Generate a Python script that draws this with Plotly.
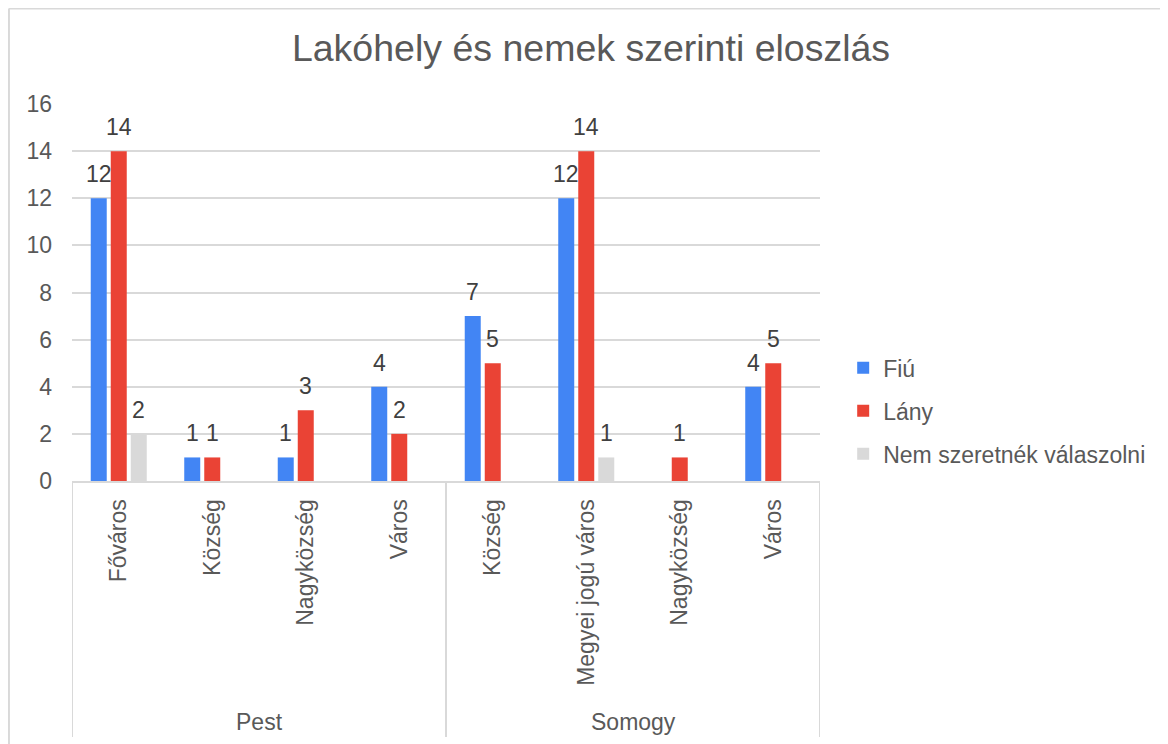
import plotly.graph_objects as go

groups = ["Pest", "Pest", "Pest", "Pest", "Somogy", "Somogy", "Somogy", "Somogy"]
places = ["Főváros", "Község", "Nagyközség", "Város", "Község", "Megyei jogú város", "Nagyközség", "Város"]
fiu = [12, 1, 1, 4, 7, 12, None, 4]
lany = [14, 1, 3, 2, 5, 14, 1, 5]
nem = [2, None, None, None, None, 1, None, None]
y_ticks = [0, 2, 4, 6, 8, 10, 12, 14, 16]

series = [
    ("Fiú", fiu, "#4285F4"),
    ("Lány", lany, "#EA4335"),
    ("Nem szeretnék válaszolni", nem, "#D9D9D9"),
]

FONT = "Arial, Liberation Sans, sans-serif"
TXT = "#595959"
GRID = "#D9D9D9"
FS = 23
BARGAP = 0.358
BARGROUPGAP = 0.2

xpos = list(range(len(places)))
n_series = len(series)
slot = (1 - BARGAP) / n_series

fig = go.Figure()
for i, (name, vals, col) in enumerate(series):
    fig.add_trace(go.Bar(
        name=name, x=xpos, y=vals,
        marker=dict(color=col, line=dict(width=0)),
        legendgroup=f"g{i}", hoverinfo="name+y",
    ))
    off = (i - (n_series - 1) / 2) * slot
    for xi, v in zip(xpos, vals):
        if v is None:
            continue
        fig.add_annotation(x=xi + off, y=v, xref="x", yref="y", text=str(v),
                           showarrow=False, yanchor="bottom", xanchor="center", yshift=9,
                           font=dict(family=FONT, size=FS, color="#404040"))

# group (outer) labels and dividers
uniq = []
for g in groups:
    if g not in uniq:
        uniq.append(g)
bounds = [-0.5]
for g in uniq:
    idx = [k for k, gg in enumerate(groups) if gg == g]
    fig.add_annotation(x=sum(idx) / len(idx), y=-0.639, xref="x", yref="paper", text=g,
                       showarrow=False, yanchor="middle", xanchor="center",
                       font=dict(family=FONT, size=FS, color=TXT))
    bounds.append(max(idx) + 0.5)
for b in bounds:
    fig.add_shape(type="line", xref="x", yref="paper", x0=b, x1=b, y0=0, y1=-0.679,
                  line=dict(color=GRID, width=2))

# chart border (top and left)
fig.add_shape(type="line", xref="paper", yref="paper", x0=-0.0843, x1=1.47, y0=1.2535, y1=1.2535,
              line=dict(color=GRID, width=2))
fig.add_shape(type="line", xref="paper", yref="paper", x0=-0.0843, x1=-0.0843, y0=1.2535, y1=-0.7,
              line=dict(color=GRID, width=2))

fig.update_layout(
    width=1160, height=736,
    paper_bgcolor="white", plot_bgcolor="white",
    margin=dict(l=64, r=348, t=96, b=263),
    font=dict(family=FONT, size=FS, color=TXT),
    title=dict(text="Lakóhely és nemek szerinti eloszlás", x=0.5026, xanchor="center",
               y=0.9457, yanchor="middle", font=dict(family=FONT, size=37.5, color=TXT)),
    barmode="group", bargap=BARGAP, bargroupgap=BARGROUPGAP,
    legend=dict(x=1.031, xanchor="left", y=0.186, yanchor="middle",
                font=dict(family=FONT, size=FS, color=TXT),
                tracegroupgap=10, itemwidth=30, traceorder="grouped"),
    showlegend=True,
)
fig.update_yaxes(range=[0, 16], tickvals=y_ticks, showgrid=True, gridcolor=GRID, gridwidth=2,
                 zeroline=False, showline=False, ticks="", ticklabelstandoff=19,
                 tickfont=dict(family=FONT, size=FS, color=TXT))
fig.update_xaxes(range=[-0.5, len(places) - 0.5], tickvals=xpos, ticktext=places,
                 showgrid=False, zeroline=False, showline=True, linecolor=GRID, linewidth=2,
                 tickangle=-90, ticks="", ticklabelstandoff=7,
                 tickfont=dict(family=FONT, size=FS, color=TXT))

fig.write_html("out.html")
